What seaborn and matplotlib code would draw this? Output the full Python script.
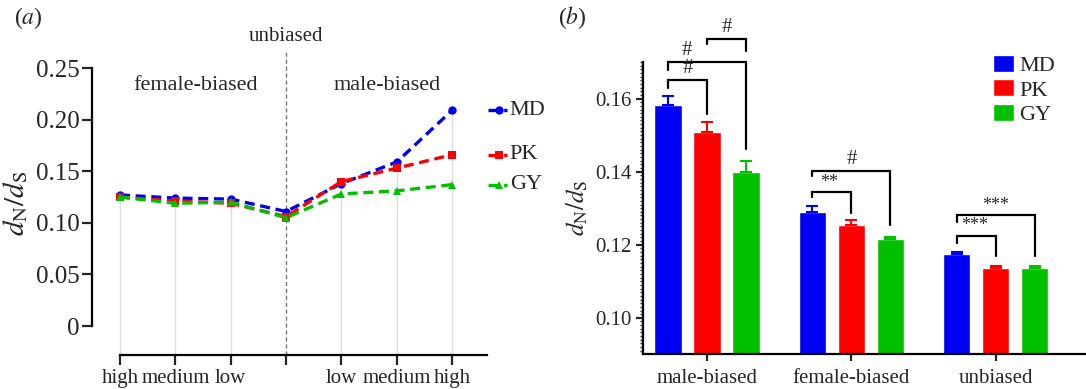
import matplotlib
matplotlib.use("Agg")
import matplotlib.pyplot as plt
from matplotlib.ticker import FixedLocator, FuncFormatter, MultipleLocator
import numpy as np
import pandas as pd
import seaborn as sns

# panel (a): dN/dS across expression-bias bins
bins_a = ["high", "medium", "low", "", "low", "medium", "high"]
md_a = [0.127, 0.124, 0.123, 0.111, 0.138, 0.159, 0.209]
pk_a = [0.125, 0.121, 0.119, 0.106, 0.140, 0.153, 0.166]
gy_a = [0.125, 0.119, 0.120, 0.105, 0.128, 0.131, 0.137]

# panel (b): mean dN/dS with upper SE
groups_b = ["male-biased", "female-biased", "unbiased"]
md_b = [0.1581, 0.1290, 0.1175]
pk_b = [0.1508, 0.1253, 0.1137]
gy_b = [0.1399, 0.1216, 0.1137]
md_err = [0.0026, 0.0017, 0.0005]
pk_err = [0.0027, 0.0015, 0.0005]
gy_err = [0.0031, 0.0005, 0.0005]

species = ["MD", "PK", "GY"]
colors = {"MD": "#0000f5", "PK": "#ff0000", "GY": "#00c000"}

sns.set_theme(style="ticks")
plt.rcParams["font.family"] = ["Liberation Serif", "DejaVu Serif"]
plt.rcParams["mathtext.fontset"] = "stix"
plt.rcParams["axes.linewidth"] = 1.6
plt.rcParams["axes.edgecolor"] = "black"
FS = 15

fig = plt.figure(figsize=(10.86, 3.89), dpi=100)
W, H = 1086, 389
ax1 = fig.add_axes([92 / W, 1 - 355 / H, (487 - 92) / W, (355 - 52) / H])
ax2 = fig.add_axes([643 / W, 1 - 354 / H, (1086 - 643) / W, (354 - 62) / H])

# ---------- panel (a)
pos = np.arange(len(bins_a))
df_a = pd.DataFrame({
    "pos": np.tile(pos, 3),
    "value": md_a + pk_a + gy_a,
    "species": np.repeat(species, len(pos)),
})
ymin_a = -0.028
top_vals = np.max([md_a, pk_a, gy_a], axis=0)
keep = pos != 3
ax1.vlines(pos[keep], ymin_a, top_vals[keep], color="#dddddd", lw=1.0, zorder=0)
ax1.axvline(3, color="#777777", lw=1.0, ls=(0, (3, 2)), zorder=0)

sns.lineplot(data=df_a, x="pos", y="value", hue="species", style="species",
             hue_order=species, palette=colors,
             markers={"MD": "o", "PK": "s", "GY": "^"},
             dashes={s: (3, 1.7) for s in species},
             markersize=6, markeredgewidth=0, linewidth=2.4,
             legend=False, ax=ax1)

ax1.set_xlim(-0.506, 6.63)
ax1.set_ylim(ymin_a, 0.2655)
ax1.spines[["top", "right"]].set_visible(False)
ax1.spines["left"].set_bounds(0, 0.25)
ax1.spines["bottom"].set_bounds(0, 6.63)
ax1.yaxis.set_major_locator(FixedLocator([0, 0.05, 0.10, 0.15, 0.20, 0.25]))
ax1.yaxis.set_major_formatter(FuncFormatter(lambda v, _: "0" if abs(v) < 1e-9 else f"{v:.2f}"))
ax1.set_xticks(pos)
ax1.set_xticklabels(bins_a)
ax1.tick_params(axis="both", length=7, width=1.6, direction="out")
ax1.tick_params(axis="x", labelsize=FS, pad=3)
ax1.tick_params(axis="y", labelsize=FS + 3, pad=2)
ax1.set_xlabel("")
ax1.set_ylabel(r"$d_\mathrm{N}/d_\mathrm{S}$", fontsize=FS + 6, labelpad=4)

ax1.text(1.36, 0.2335, "female-biased", ha="center", va="center", fontsize=FS + 1)
ax1.text(4.83, 0.2335, "male-biased", ha="center", va="center", fontsize=FS + 1)
ax1.text(3, 1.05, "unbiased", ha="center", va="center", fontsize=FS,
         transform=ax1.get_xaxis_transform())

# right-hand labels for each line
mk = {"MD": "o", "PK": "s", "GY": "^"}
for s, vals in zip(species, [md_a, pk_a, gy_a]):
    last = vals[-1]
    ax1.plot([6.65, 7.0], [last, last], color=colors[s], lw=2.4, ls=(0, (3, 1.7)),
             clip_on=False)
    ax1.plot([6.85], [last], marker=mk[s], color=colors[s], ms=6, mew=0, clip_on=False)
    ax1.text(7.04, last, s, ha="left", va="center", fontsize=FS + 1)

fig.text(14 / W, 1 - 18 / H, r"($a$)", fontsize=FS + 2, ha="left", va="center")

# ---------- panel (b)
df_b = pd.DataFrame({
    "group": np.tile(groups_b, 3),
    "value": md_b + pk_b + gy_b,
    "species": np.repeat(species, len(groups_b)),
})
sns.barplot(data=df_b, x="group", y="value", hue="species", order=groups_b,
            hue_order=species, palette=colors, saturation=1, width=0.81, gap=0.3,
            errorbar=None, ax=ax2)

errs = {"MD": md_err, "PK": pk_err, "GY": gy_err}
bar_x = {}
for container, s in zip(ax2.containers, species):
    xs = [p.get_x() + p.get_width() / 2 for p in container.patches]
    hs = [p.get_height() for p in container.patches]
    bar_x[s] = xs
    ax2.errorbar(xs, hs, yerr=[np.zeros(len(xs)), errs[s]], fmt="none",
                 ecolor=colors[s], elinewidth=1.5, capsize=4, capthick=1.5)

ax2.set_ylim(0.0901, 0.170)
ax2.set_xlim(-0.444, 2.625)
ax2.spines[["top", "right"]].set_visible(False)
ax2.yaxis.set_major_locator(FixedLocator([0.10, 0.12, 0.14, 0.16]))
ax2.yaxis.set_major_formatter(FuncFormatter(lambda v, _: f"{v:.2f}"))
ax2.yaxis.set_minor_locator(MultipleLocator(0.001))
ax2.tick_params(axis="both", which="major", labelsize=FS, length=5, width=1.6, pad=3)
ax2.tick_params(axis="x", pad=6)
ax2.tick_params(axis="y", which="minor", length=2.5, width=1.0)
ax2.set_xlabel("")
ax2.set_ylabel(r"$d_\mathrm{N}/d_\mathrm{S}$", fontsize=FS + 3, labelpad=4)

leg = ax2.legend(loc="upper right", bbox_to_anchor=(0.96, 1.07), frameon=False,
                 fontsize=FS + 1, handlelength=0.95, handleheight=0.8,
                 handletextpad=0.25, labelspacing=0.15, borderaxespad=0.2)

# significance brackets: (group, from, to, line y, left foot, right foot, label, text x shift)
brackets = [
    (0, "MD", "PK", 0.1652, 0.1630, 0.1557, "#", 0.0),
    (0, "MD", "GY", 0.1701, 0.1679, 0.1461, "#", -0.14),
    (0, "PK", "GY", 0.1764, 0.1748, 0.1729, "#", 0.0),
    (1, "MD", "PK", 0.1345, 0.1330, 0.1288, "**", -0.02),
    (1, "MD", "GY", 0.1403, 0.1387, 0.1255, "#", 0.0),
    (2, "MD", "PK", 0.1225, 0.1206, 0.1170, "***", -0.01),
    (2, "MD", "GY", 0.1282, 0.1263, 0.1170, "***", 0.0),
]
for g, a, b, yl, yf, yr, lab, dx in brackets:
    x0, x1 = bar_x[a][g], bar_x[b][g]
    ax2.plot([x0, x0, x1, x1], [yf, yl, yl, yr], color="black", lw=1.6,
             clip_on=False, solid_joinstyle="miter")
    if lab == "#":
        ax2.text((x0 + x1) / 2 + dx, yl + 0.0005, lab, ha="center", va="bottom",
                 fontsize=FS, clip_on=False)
    else:
        ax2.text((x0 + x1) / 2 + dx, yl + 0.0003, lab, ha="center", va="bottom",
                 fontsize=FS - 2, clip_on=False)

fig.text(558 / W, 1 - 18 / H, r"($b$)", fontsize=FS + 2, ha="left", va="center")

fig.savefig("out.png", dpi=100)
